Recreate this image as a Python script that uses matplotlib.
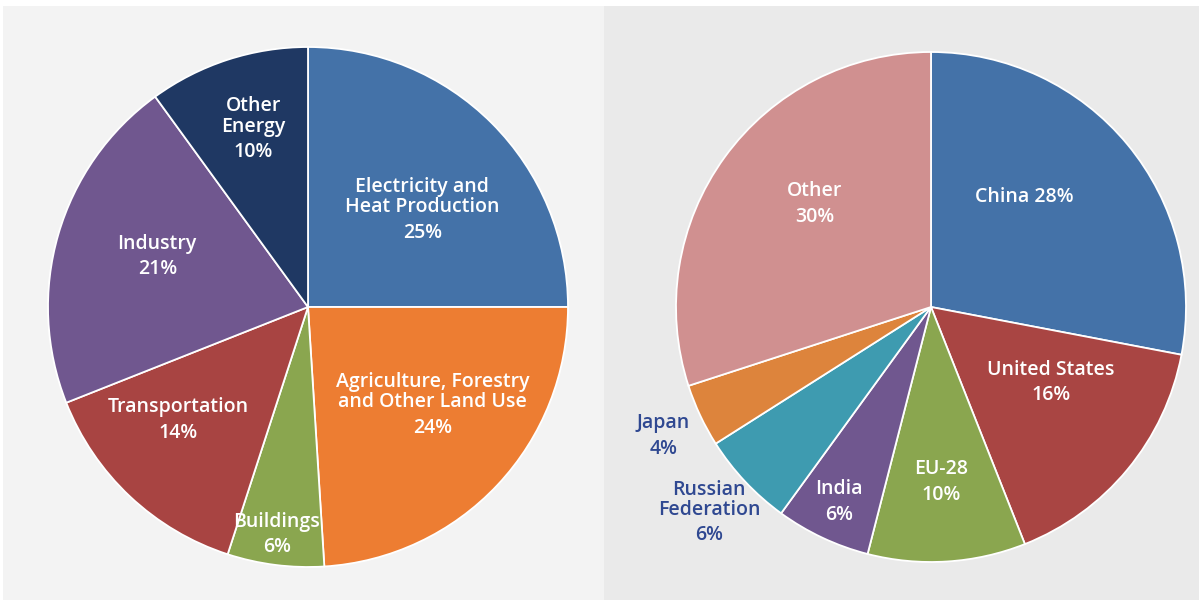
import matplotlib
matplotlib.use("Agg")
import matplotlib.pyplot as plt
import numpy as np

# ---- data ----
sector_labels = ["Electricity and\nHeat Production", "Agriculture, Forestry\nand Other Land Use",
                 "Buildings", "Transportation", "Industry", "Other\nEnergy"]
sector_values = [25, 24, 6, 14, 21, 10]
sector_colors = ["#4472a8", "#ed7d32", "#8aa64f", "#a84442", "#70578f", "#1f3863"]

country_labels = ["China", "United States", "EU-28", "India", "Russian\nFederation", "Japan", "Other"]
country_values = [28, 16, 10, 6, 6, 4, 30]
country_colors = ["#4472a8", "#a94543", "#8aa64f", "#70578f", "#3e9bb0", "#dd843c", "#d09090"]

# ---- label placement (offsets in radius units from the pie centre) ----
sector_label_pos = [(0.44, 0.34), (0.48, -0.41), (-0.12, -0.87), (-0.50, -0.43), (-0.58, 0.20), (-0.21, 0.65)]
country_label_pos = [(0.365, 0.43), (0.47, -0.29), (0.04, -0.68), (-0.36, -0.76), (-0.87, -0.84), (-1.05, -0.50), (-0.455, 0.41)]
country_label_outside = [False, False, False, False, True, True, False]
country_inline = [True, False, False, False, False, False, False]

W, H = 1199, 600
fig = plt.figure(figsize=(W / 100, H / 100), dpi=100, facecolor="white")

FONT = dict(family=["Open Sans", "DejaVu Sans"], weight="semibold", fontsize=14)


def make_axes(x0, x1, y0, y1, cx, cy, R, bg, values, colors):
    ax = fig.add_axes([x0 / W, 1 - y1 / H, (x1 - x0) / W, (y1 - y0) / H])
    ax.pie(values, colors=colors, startangle=90, counterclock=False, frame=True,
           wedgeprops=dict(edgecolor="white", linewidth=1.3))
    ax.set_facecolor(bg)
    ax.set_frame_on(True)
    ax.set_xlim((x0 - cx) / R, (x1 - cx) / R)
    ax.set_ylim(-(y1 - cy) / R, (cy - y0) / R)
    ax.set_aspect("auto")
    for s in ax.spines.values():
        s.set_visible(False)
    ax.set_xticks([])
    ax.set_yticks([])
    return ax


def draw_label(ax, pos, name, value, color, inline=False):
    x, y = pos
    if inline:
        ax.text(x, y, f"{name} {value}%", ha="center", va="center", color=color, **FONT)
        return
    ax.annotate(name, xy=(x, y), xytext=(0, 1.0), textcoords="offset points",
                ha="center", va="bottom", color=color, linespacing=1.02, **FONT)
    ax.annotate(f"{value}%", xy=(x, y), xytext=(0, -3.0), textcoords="offset points",
                ha="center", va="top", color=color, **FONT)


# left panel
axL = make_axes(3, 604, 6, 600, 308, 307, 260, "#f3f3f3", sector_values, sector_colors)
for pos, name, v in zip(sector_label_pos, sector_labels, sector_values):
    draw_label(axL, pos, name, v, "white")

# right panel
axR = make_axes(604, 1199, 6, 600, 931, 307, 255, "#eaeaea", country_values, country_colors)
for pos, name, v, out, inl in zip(country_label_pos, country_labels, country_values,
                                  country_label_outside, country_inline):
    draw_label(axR, pos, name, v, "#2f4891" if out else "white", inline=inl)

fig.savefig("out.png", dpi=100, facecolor="white")
